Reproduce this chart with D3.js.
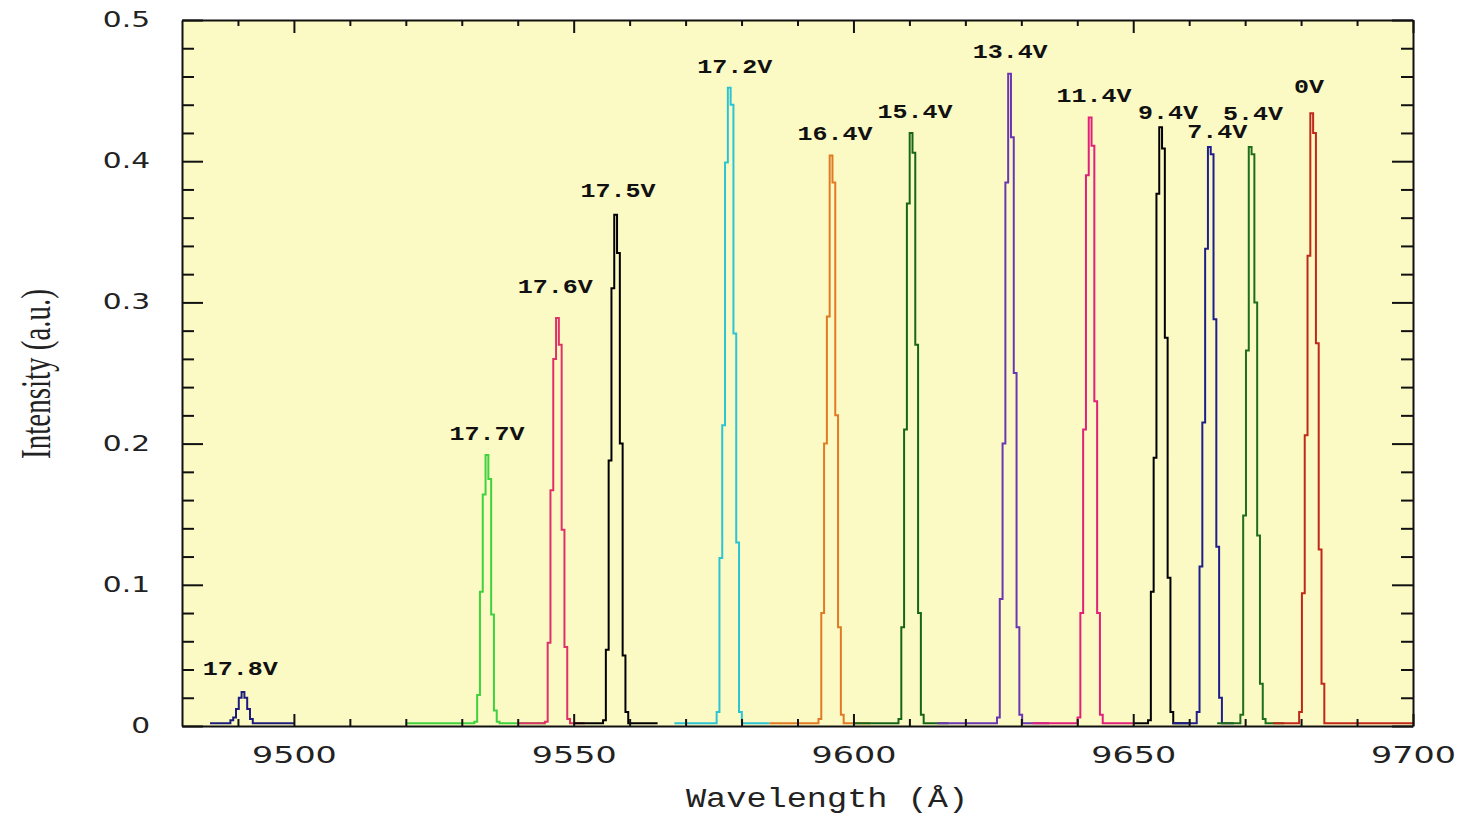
<!DOCTYPE html>
<html>
<head>
<meta charset="utf-8">
<script src="https://cdn.jsdelivr.net/npm/d3@7"></script>
<style>
  body { margin: 0; background: #fff; }
  .axis path, .axis line { stroke: #111; stroke-width: 2; }
  .axis text { font-family: "DejaVu Sans", sans-serif; fill: #222; }
  .peak { fill: none; stroke-width: 2; }
  .peak-label { font-family: "Liberation Mono", monospace; font-weight: bold; font-size: 20px; fill: #111; }
</style>
</head>
<body>
<svg width="1458" height="817"></svg>
<script>
// one spectrum per bias voltage
const labels = ['17.8V', '17.7V', '17.6V', '17.5V', '17.2V', '16.4V', '15.4V', '13.4V', '11.4V', '9.4V', '7.4V', '5.4V', '0V'];
const colors = ['#1c1c7a', '#3fd23f', '#e0306a', '#000000', '#2cc4d4', '#e07a24', '#16661a', '#6a36b4', '#e0207a', '#000000', '#1e1e8c', '#1e6e1e', '#c0281a'];
// wavelength (A) of the highest bin
const peakTop = [9490.9, 9534.5, 9547.1, 9557.5, 9577.8, 9596.0, 9610.3, 9627.9, 9642.3, 9654.9, 9663.6, 9670.9, 9681.9];
const topIndex = [4, 4, 4, 4, 4, 4, 4, 4, 4, 4, 4, 3, 4];
// intensity in 0.5 A bins round each peak
const profiles = [
  [0.004, 0.006, 0.012, 0.020, 0.024, 0.020, 0.012, 0.005],
  [0.003, 0.022, 0.095, 0.164, 0.192, 0.175, 0.079, 0.011, 0.003],
  [0.003, 0.059, 0.167, 0.260, 0.289, 0.270, 0.139, 0.056, 0.005],
  [0.004, 0.054, 0.188, 0.310, 0.362, 0.335, 0.200, 0.050, 0.010],
  [0.010, 0.119, 0.213, 0.399, 0.452, 0.440, 0.278, 0.130, 0.010],
  [0.005, 0.080, 0.200, 0.290, 0.404, 0.385, 0.220, 0.070, 0.008],
  [0.005, 0.070, 0.210, 0.370, 0.420, 0.406, 0.270, 0.080, 0.008],
  [0.006, 0.090, 0.200, 0.385, 0.462, 0.417, 0.250, 0.070, 0.008],
  [0.006, 0.080, 0.210, 0.390, 0.431, 0.411, 0.230, 0.080, 0.008],
  [0.004, 0.095, 0.190, 0.377, 0.424, 0.409, 0.275, 0.105, 0.010],
  [0.010, 0.113, 0.215, 0.338, 0.410, 0.405, 0.288, 0.127, 0.020],
  [0.008, 0.149, 0.266, 0.410, 0.405, 0.300, 0.135, 0.030, 0.005],
  [0.010, 0.094, 0.206, 0.333, 0.434, 0.420, 0.271, 0.125, 0.030]
];
// flat baseline recorded either side of each peak
const baseFrom = [9485, 9520, 9540, 9550, 9568, 9585, 9600, 9615, 9632, 9650, 9657, 9665, 9675];
const baseTo   = [9500, 9545, 9552, 9565, 9585, 9603, 9617, 9635, 9650, 9660, 9668, 9677, 9700];
// where the voltage labels sit (wavelength, intensity of text baseline)
const labelX = [9490.4, 9534.5, 9546.7, 9557.9, 9578.8, 9596.7, 9611.0, 9628.0, 9643.0, 9656.2, 9665.0, 9671.4, 9681.4];
const labelY = [0.036, 0.2025, 0.3067, 0.375, 0.4625, 0.415, 0.4306, 0.473, 0.442, 0.430, 0.4164, 0.429, 0.448];

const xTicks = [9500, 9550, 9600, 9650, 9700];
const yTicks = [0, 0.1, 0.2, 0.3, 0.4, 0.5];
const binWidth = 0.5;
const baseLevel = 0.002;

const svg = d3.select('svg');
const margin = { top: 20, right: 45, bottom: 91, left: 182 };
const width = 1458 - margin.left - margin.right;
const height = 817 - margin.top - margin.bottom;
const sx = 1.45; // the original picture is stretched sideways

const x = d3.scaleLinear().domain([9480, 9700]).range([0, width]);
const y = d3.scaleLinear().domain([0, 0.5]).range([height, 0]);

const g = svg.append('g')
    .attr('transform', `translate(${margin.left}, ${margin.top})`);

g.append('rect')
    .attr('width', width)
    .attr('height', height)
    .attr('fill', '#fcfac4');

const series = labels.map((label, i) => {
    const start = peakTop[i] - binWidth / 2 - topIndex[i] * binWidth;
    const pts = [[baseFrom[i], baseLevel]];
    profiles[i].forEach((v, j) => pts.push([start + j * binWidth, v]));
    pts.push([start + profiles[i].length * binWidth, baseLevel]);
    pts.push([baseTo[i], baseLevel]);
    return { label, color: colors[i], pts, lx: labelX[i], ly: labelY[i] };
});

const line = d3.line()
    .x(d => x(d[0]))
    .y(d => y(d[1]))
    .curve(d3.curveStepAfter);

g.selectAll('.peak').data(series)
    .enter().append('path')
    .attr('class', 'peak')
    .attr('stroke', d => d.color)
    .attr('d', d => line(d.pts));

g.selectAll('.peak-label').data(series)
    .enter().append('text')
    .attr('class', 'peak-label')
    .attr('text-anchor', 'middle')
    .attr('transform', d => `translate(${x(d.lx)}, ${y(d.ly)}) scale(1.25, 1)`)
    .text(d => d.label);

// minor ticks every 10 A and 0.02
const xMinor = d3.range(9490, 9700, 10).filter(v => v % 50 !== 0);
const yMinor = d3.range(0.02, 0.5, 0.02).filter(v => Math.abs(v * 10 - Math.round(v * 10)) > 1e-6);

const minor = (axis, transform) => {
    g.append('g').attr('class', 'axis').attr('transform', transform).call(axis)
        .select('.domain').remove();
};
minor(d3.axisBottom(x).tickValues(xMinor).tickSize(-7).tickFormat(''), `translate(0, ${height})`);
minor(d3.axisTop(x).tickValues(xMinor).tickSize(-6).tickFormat(''), 'translate(0, 0)');
minor(d3.axisLeft(y).tickValues(yMinor).tickSize(-12).tickFormat(''), 'translate(0, 0)');
minor(d3.axisRight(y).tickValues(yMinor).tickSize(-12).tickFormat(''), `translate(${width}, 0)`);

const xAxis = g.append('g').attr('class', 'axis')
    .attr('transform', `translate(0, ${height})`)
    .call(d3.axisBottom(x).tickValues(xTicks).tickSizeInner(-12).tickSizeOuter(0).tickPadding(21).tickFormat(d3.format('d')));
xAxis.selectAll('text').attr('font-size', 23).attr('transform', `scale(${sx}, 1)`);

g.append('g').attr('class', 'axis')
    .call(d3.axisTop(x).tickValues(xTicks).tickSizeInner(-13).tickSizeOuter(0).tickFormat(''));

const yAxis = g.append('g').attr('class', 'axis')
    .call(d3.axisLeft(y).tickValues(yTicks).tickSizeInner(-21).tickSizeOuter(0).tickPadding(22)
        .tickFormat(d => d === 0 ? '0' : d3.format('.1f')(d)));
yAxis.selectAll('text').attr('font-size', 20.5).attr('transform', `scale(${sx}, 1)`);

g.append('g').attr('class', 'axis')
    .attr('transform', `translate(${width}, 0)`)
    .call(d3.axisRight(y).tickValues(yTicks).tickSizeInner(-21).tickSizeOuter(0).tickFormat(''));

svg.append('text')
    .attr('transform', 'translate(827, 807) scale(1.2, 1)')
    .attr('text-anchor', 'middle')
    .attr('font-family', '"Liberation Mono", monospace')
    .attr('font-size', 28)
    .attr('fill', '#222')
    .text('Wavelength (Å)');

svg.append('text')
    .attr('transform', 'translate(50, 374) rotate(-90) scale(1, 1.45)')
    .attr('text-anchor', 'middle')
    .attr('font-family', '"Liberation Serif", serif')
    .attr('font-size', 29)
    .attr('fill', '#222')
    .text('Intensity (a.u.)');
</script>
</body>
</html>
